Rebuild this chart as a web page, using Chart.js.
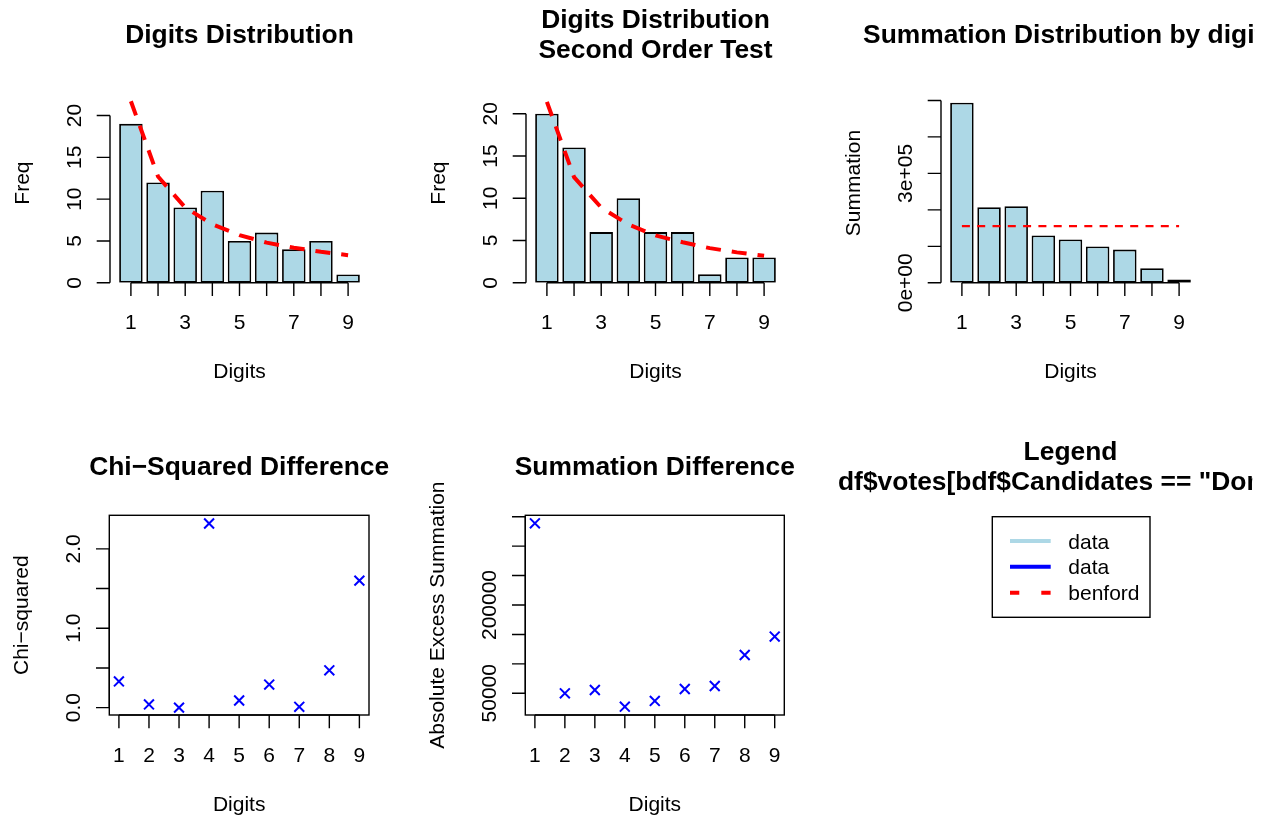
<!DOCTYPE html>
<html>
<head>
<meta charset="utf-8">
<script src="https://cdn.jsdelivr.net/npm/chart.js@4/dist/chart.umd.min.js"></script>
<style>
html,body{margin:0;padding:0;background:#ffffff;}
#wrap{position:relative;width:1267px;height:818px;overflow:hidden;background:#ffffff;}
canvas{position:absolute;}
</style>
</head>
<body>
<div id="wrap">
<canvas id="c1"></canvas>
<canvas id="c2"></canvas>
<canvas id="c3"></canvas>
<canvas id="c4"></canvas>
<canvas id="c5"></canvas>
<canvas id="c6"></canvas>
</div>
<script>
// ---------------- data ----------------
const digits = [1, 2, 3, 4, 5, 6, 7, 8, 9];
const barDigitLabels = ['1', '', '3', '', '5', '', '7', '', '9'];
const pointDigitLabels = ['1', '2', '3', '4', '5', '6', '7', '8', '9'];

const freqFirst = [19, 12, 9, 11, 5, 6, 4, 5, 1];
const benfordFirst = [21.7, 12.7, 9.0, 7.0, 5.7, 4.8, 4.2, 3.7, 3.3];

const freqSecond = [20, 16, 6, 10, 6, 6, 1, 3, 3];
const benfordSecond = [21.4, 12.5, 8.9, 6.9, 5.6, 4.8, 4.1, 3.6, 3.2];

const sumByDigit = [494000, 207000, 210000, 130000, 119000, 99600, 91000, 40000, 9300];
const sumBenford = [155400, 155400, 155400, 155400, 155400, 155400, 155400, 155400, 155400];

const chiSquared = [0.33, 0.04, 0.00, 2.32, 0.09, 0.29, 0.01, 0.47, 1.60];
const absExcessSum = [338800, 50000, 55600, 27200, 37000, 57300, 62400, 115000, 146300];

const freqTicks = [0, 5, 10, 15, 20];
const freqTickLabels = ['0', '5', '10', '15', '20'];
const sumTicks = [0, 100000, 200000, 300000, 400000, 500000];
const sumTickLabels = ['0e+00', '', '', '3e+05', '', ''];
const chiTicks = [0, 0.5, 1.0, 1.5, 2.0];
const chiTickLabels = ['0.0', '', '1.0', '', '2.0'];
const excessTicks = [50000, 100000, 150000, 200000, 250000, 300000, 350000];
const excessTickLabels = ['50000', '', '', '200000', '', '', ''];

const legendLabels = ['data', 'data', 'benford'];

// ---------------- layout helpers ----------------
const FONT = '"Liberation Sans", Arial, Helvetica, sans-serif';
const LIGHTBLUE = '#ADD8E6';
// barplot midpoints (width 1, space 0.2)
const barMid = digits.map((d, i) => 0.7 + 1.2 * i);

const cells = {
  c1: {x: 0, y: 0, w: 415, h: 409},
  c2: {x: 415, y: 0, w: 415, h: 409},
  c3: {x: 830, y: 0, w: 426, h: 409},
  c4: {x: 0, y: 409, w: 415, h: 409},
  c5: {x: 415, y: 409, w: 415, h: 409},
  c6: {x: 836, y: 409, w: 417, h: 409}
};
const regions = {
  c1: {l: 110, t: 83.3, r: 369, b: 282.8},
  c2: {l: 526, t: 83.3, r: 785, b: 282.8},
  c3: {l: 941, t: 83.3, r: 1200, b: 282.8},
  c4: {l: 109.3, t: 515.3, r: 369, b: 715},
  c5: {l: 525.3, t: 515.3, r: 784.3, b: 715},
  c6: {l: 941, t: 515.3, r: 1200, b: 715}
};

function setupCanvas(id) {
  const c = cells[id];
  const el = document.getElementById(id);
  el.width = c.w; el.height = c.h;
  el.style.left = c.x + 'px'; el.style.top = c.y + 'px';
  el.style.width = c.w + 'px'; el.style.height = c.h + 'px';
  return el;
}

function baseOptions(id, sc) {
  const c = cells[id], r = regions[id];
  const xScale = {type: 'linear', display: false, min: sc.xmin, max: sc.xmax, offset: false};
  if (sc.xTickVals) {
    xScale.afterBuildTicks = (s) => { s.ticks = sc.xTickVals.map(v => ({value: v})); };
  }
  return {
    responsive: false,
    animation: false,
    events: [],
    devicePixelRatio: 1,
    layout: {padding: {left: r.l - c.x, top: r.t - c.y, right: c.x + c.w - r.r, bottom: c.y + c.h - r.b}},
    scales: {
      x: xScale,
      y: {type: 'linear', display: false, min: sc.ymin, max: sc.ymax}
    },
    plugins: {legend: {display: false}, tooltip: {enabled: false}, title: {display: false}}
  };
}

function vtext(ctx, t, x, y) {
  ctx.save();
  ctx.translate(x, y);
  ctx.rotate(-Math.PI / 2);
  ctx.textAlign = 'center';
  ctx.textBaseline = 'alphabetic';
  ctx.fillText(t, 0, 0);
  ctx.restore();
}

function decor(id, conf) {
  return {
    id: 'rdecor_' + id,
    afterDraw(chart) {
      const ctx = chart.ctx, c = cells[id], a = chart.chartArea;
      const L = a.left + c.x, R = a.right + c.x, T = a.top + c.y, B = a.bottom + c.y;
      ctx.save();
      ctx.translate(-c.x, -c.y);
      if (conf.clipRight) {
        ctx.beginPath(); ctx.rect(c.x, c.y, conf.clipRight - c.x, c.h); ctx.clip();
      }
      ctx.fillStyle = '#000'; ctx.strokeStyle = '#000'; ctx.lineWidth = 1.4;
      // titles
      ctx.font = 'bold 26.4px ' + FONT;
      ctx.textBaseline = 'alphabetic';
      conf.title.forEach((t, i) => {
        const tx = conf.titleX ? conf.titleX[i] : null;
        if (tx !== null && tx !== undefined) {
          ctx.textAlign = 'left';
          ctx.fillText(t, tx, T - conf.titleOff[i]);
        } else {
          ctx.textAlign = 'center';
          ctx.fillText(t, (L + R) / 2 + (conf.titleDx || 0), T - conf.titleOff[i]);
        }
      });
      if (conf.axes) {
        const xs = chart.scales.x, ys = chart.scales.y;
        const X = v => xs.getPixelForValue(v) + c.x;
        const Y = v => ys.getPixelForValue(v) + c.y;
        if (conf.box) ctx.strokeRect(L, T, R - L, B - T);
        const xt = conf.xTicks, xl = conf.xLabels;
        ctx.beginPath();
        ctx.moveTo(X(xt[0]), B); ctx.lineTo(X(xt[xt.length - 1]), B);
        xt.forEach(v => { ctx.moveTo(X(v), B); ctx.lineTo(X(v), B + 13.3); });
        ctx.stroke();
        ctx.font = '21px ' + FONT;
        ctx.textAlign = 'center'; ctx.textBaseline = 'alphabetic';
        xt.forEach((v, i) => { if (xl[i]) ctx.fillText(xl[i], X(v), B + 46.5); });
        ctx.fillText(conf.xTitle, (L + R) / 2, B + 95.5);
        const yt = conf.yTicks, yl = conf.yLabels;
        ctx.beginPath();
        ctx.moveTo(L, Y(yt[0])); ctx.lineTo(L, Y(yt[yt.length - 1]));
        yt.forEach(v => { ctx.moveTo(L, Y(v)); ctx.lineTo(L - 13.3, Y(v)); });
        ctx.stroke();
        yt.forEach((v, i) => { if (yl[i]) vtext(ctx, yl[i], L - 29, Y(v)); });
        vtext(ctx, conf.yTitle, L - 81, (T + B) / 2);
      }
      if (conf.legend) {
        const lg = conf.legend;
        ctx.lineWidth = 1.4;
        ctx.strokeRect(lg.x, lg.y, lg.w, lg.h);
        ctx.font = '21px ' + FONT;
        ctx.textAlign = 'left'; ctx.textBaseline = 'alphabetic';
        chart.data.datasets.forEach((ds, i) => {
          const yy = lg.rowY[i];
          ctx.save();
          ctx.strokeStyle = ds.borderColor; ctx.lineWidth = ds.borderWidth;
          ctx.lineCap = 'butt';
          ctx.setLineDash(ds.borderDash || []);
          ctx.beginPath(); ctx.moveTo(lg.lineX0, yy); ctx.lineTo(lg.lineX1, yy); ctx.stroke();
          ctx.restore();
          ctx.fillStyle = '#000';
          ctx.fillText(ds.label, lg.textX, yy + 7.5);
        });
      }
      ctx.restore();
    }
  };
}

function barPanel(id, freq, benf, title, titleOff, titleDx, yTicks, yLabels, yTitle, ymax, benfWidth, benfDash, clipRight) {
  const el = setupCanvas(id);
  return new Chart(el, {
    type: 'bar',
    data: {
      datasets: [
        {
          type: 'line',
          data: digits.map((d, i) => ({x: barMid[i], y: benf[i]})),
          borderColor: '#FF0000', borderWidth: benfWidth, borderDash: benfDash,
          borderCapStyle: 'butt', pointRadius: 0, fill: false, tension: 0, order: 0
        },
        {
          type: 'bar',
          data: digits.map((d, i) => ({x: barMid[i], y: freq[i]})),
          backgroundColor: LIGHTBLUE, borderColor: '#000000', borderWidth: 1.8,
          borderSkipped: false, categoryPercentage: 1, barPercentage: 0.865, order: 1
        }
      ]
    },
    options: baseOptions(id, {xmin: -0.224, xmax: 11.224, ymin: 0, ymax: ymax, xTickVals: barMid}),
    plugins: [decor(id, {
      title: title, titleOff: titleOff, titleDx: titleDx, axes: true, box: false, clipRight: clipRight,
      xTicks: barMid, xLabels: barDigitLabels, xTitle: 'Digits',
      yTicks: yTicks, yLabels: yLabels, yTitle: yTitle
    })]
  });
}

function pointPanel(id, vals, title, yTicks, yLabels, yTitle, ymin, ymax) {
  const el = setupCanvas(id);
  return new Chart(el, {
    type: 'scatter',
    data: {
      datasets: [{
        data: digits.map((d, i) => ({x: d, y: vals[i]})),
        pointStyle: 'crossRot', pointRadius: 7, pointBorderWidth: 2,
        borderColor: '#0000FF', backgroundColor: '#0000FF', showLine: false
      }]
    },
    options: baseOptions(id, {xmin: 0.68, xmax: 9.32, ymin: ymin, ymax: ymax}),
    plugins: [decor(id, {
      title: title, titleOff: [40.8], axes: true, box: true,
      xTicks: digits, xLabels: pointDigitLabels, xTitle: 'Digits',
      yTicks: yTicks, yLabels: yLabels, yTitle: yTitle
    })]
  });
}

barPanel('c1', freqFirst, benfordFirst, ['Digits Distribution'], [40.6], 0,
  freqTicks, freqTickLabels, 'Freq', 23.85, 4, [15, 11]);
barPanel('c2', freqSecond, benfordSecond, ['Digits Distribution', 'Second Order Test'], [55.8, 25.8], 0,
  freqTicks, freqTickLabels, 'Freq', 23.6, 4, [15, 11]);
barPanel('c3', sumByDigit, sumBenford, ['Summation Distribution by digits'], [40.6], 0,
  sumTicks, sumTickLabels, 'Summation', 547000, 2.4, [8, 7.3], 1254.3);

pointPanel('c4', chiSquared, ['Chi\u2212Squared Difference'], chiTicks, chiTickLabels,
  'Chi\u2212squared', -0.093, 2.423);
pointPanel('c5', absExcessSum, ['Summation Difference'], excessTicks, excessTickLabels,
  'Absolute Excess Summation', 13100, 352400);

(function legendPanel() {
  const id = 'c6';
  const el = setupCanvas(id);
  const colors = [LIGHTBLUE, '#0000FF', '#FF0000'];
  const dashes = [[], [], [9.3, 22]];
  new Chart(el, {
    type: 'line',
    data: {
      datasets: legendLabels.map((lab, i) => ({
        label: lab, data: [], borderColor: colors[i], borderWidth: 4, borderDash: dashes[i]
      }))
    },
    options: baseOptions(id, {xmin: 0, xmax: 1, ymin: 0, ymax: 1}),
    plugins: [decor(id, {
      title: ['Legend', 'df$votes[bdf$Candidates == "Donald Trump"]'], titleOff: [55.8, 25.8],
      titleX: [null, 838], axes: false, clipRight: 1252.3,
      legend: {x: 992.3, y: 516.7, w: 157.7, h: 100.6, lineX0: 1010, lineX1: 1050.7, textX: 1068.3,
               rowY: [541, 566.7, 592.7]}
    })]
  });
})();
</script>
</body>
</html>
